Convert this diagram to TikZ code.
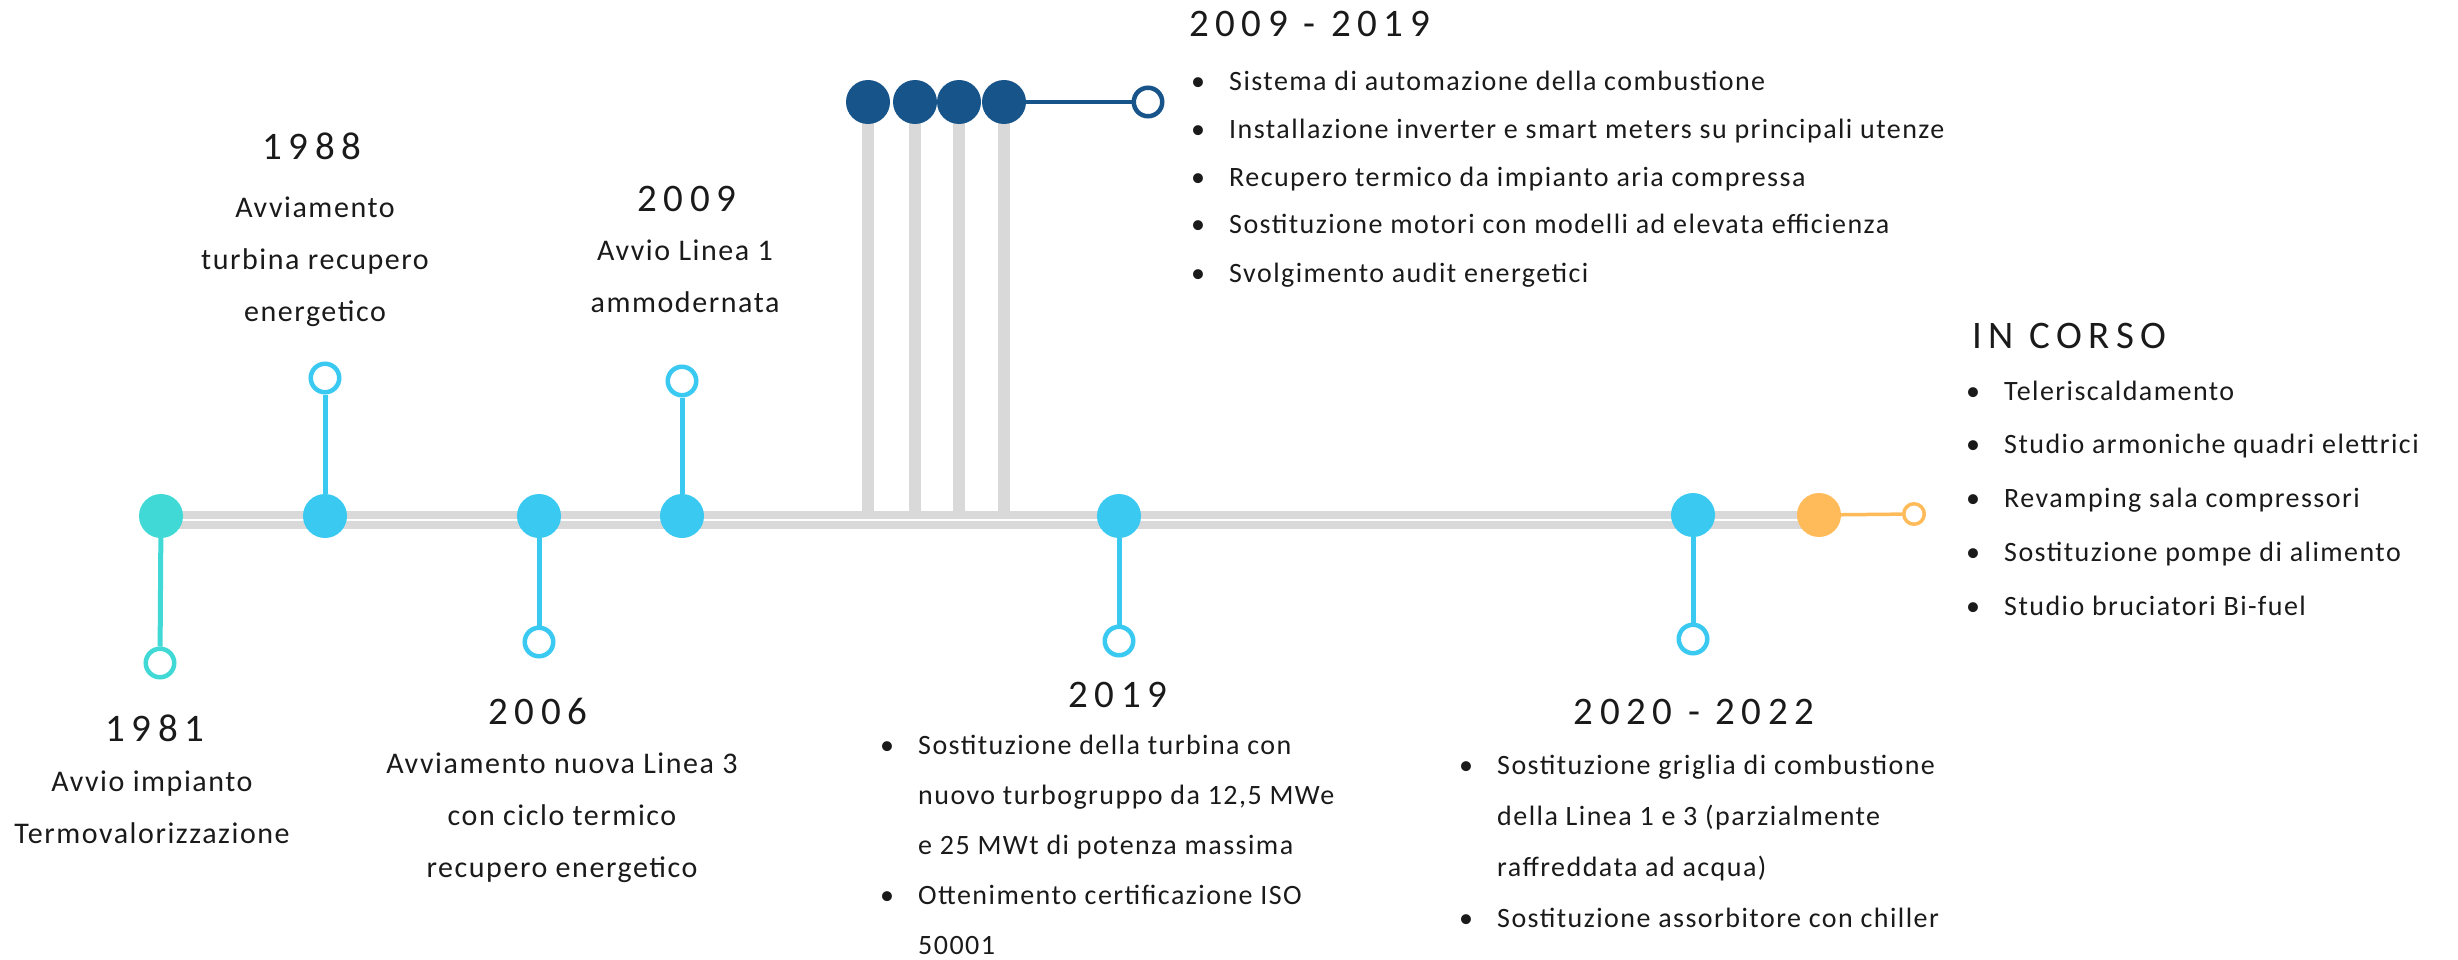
\documentclass[tikz,border=0pt]{standalone}
\usepackage{fontspec}
\setmainfont{Carlito}[LetterSpace=5.2]
\newfontfamily\yearfont{Carlito}[LetterSpace=17]
\usetikzlibrary{positioning}
\definecolor{tealdot}{RGB}{64,217,214}
\definecolor{skyblue}{RGB}{58,201,240}
\definecolor{navyblue}{RGB}{23,84,138}
\definecolor{amber}{RGB}{255,187,90}
\definecolor{railgray}{RGB}{217,217,217}
\definecolor{inkgray}{RGB}{26,26,26}
\pgfdeclarelayer{background}
\pgfsetlayers{background,main}
\newcommand{\blt}{\makebox[31pt][l]{\makebox[0pt]{\textbullet}}}
\newcommand{\ind}{\hspace*{31pt}}

\begin{document}
\begin{tikzpicture}[
    x=1pt, y=-1pt,
    milestone/.style={circle, inner sep=0, minimum size=44pt},
    endring/.style={circle, draw, fill=white, line width=4.5pt, inner sep=0, minimum size=28.5pt},
    stemline/.style={line width=5pt},
    yearlbl/.style={font=\yearfont\fontsize{39}{39}\selectfont, text=inkgray, inner sep=0, anchor=base},
    desclbl/.style={font=\fontsize{30}{52}\selectfont, text=inkgray, align=center, inner sep=0, anchor=base},
    itemlist/.style={font=\fontsize{28}{#1}\selectfont, text=inkgray, align=left, inner sep=0, anchor=base west}
  ]
    \useasboundingbox (0,0) rectangle (2458,960);

    % milestones on the rail
    \node[milestone, fill=tealdot] (d1981) at (161,516) {};
    \node[milestone, fill=skyblue] (d1988) at (325,516) {};
    \node[milestone, fill=skyblue] (d2006) at (539,516) {};
    \node[milestone, fill=skyblue] (d2009) at (682,516) {};
    \node[milestone, fill=skyblue] (d2019) at (1119,516) {};
    \node[milestone, fill=skyblue] (d2020) at (1693,515) {};
    \node[milestone, fill=amber] (dNow) at (1819,515) {};
    \foreach \x [count=\i] in {868,915,959,1004}
      \node[milestone, fill=navyblue] (n\i) at (\x,102) {};

    % end rings
    \node[endring, draw=tealdot] (e1981) at (160,663) {};
    \node[endring, draw=skyblue] (e1988) at (325,378) {};
    \node[endring, draw=skyblue] (e2006) at (539,642) {};
    \node[endring, draw=skyblue] (e2009) at (682,381) {};
    \node[endring, draw=skyblue] (e2019) at (1119,641) {};
    \node[endring, draw=skyblue] (e2020) at (1693,639) {};
    \node[endring, draw=navyblue] (eNavy) at (1148,102) {};
    \node[endring, draw=amber, line width=3.5pt, minimum size=20.5pt] (eNow) at (1914,514) {};

    \draw[stemline, tealdot] (d1981) -- (e1981);
    \draw[stemline, skyblue] (d1988) -- (e1988);
    \draw[stemline, skyblue] (d2006) -- (e2006);
    \draw[stemline, skyblue] (d2009) -- (e2009);
    \draw[stemline, skyblue] (d2019) -- (e2019);
    \draw[stemline, skyblue] (d2020) -- (e2020);
    \draw[navyblue, line width=4pt] (n4) -- (eNavy);
    \draw[amber, line width=3.5pt] (dNow) -- (eNow);

    \coordinate (railW) at (161,520);
    \coordinate (railE) at (1819,520);
    \coordinate (railTop) at (0,512);
    \begin{pgfonlayer}{background}
      \draw[railgray, line width=18pt] (railW) -- (railE);
      \draw[white, line width=2.5pt] (railW) -- (railE);
      \foreach \i in {1,...,4}
        \draw[railgray, line width=12pt] (n\i.center) -- (n\i.center |- railTop);
    \end{pgfonlayer}

    % years and texts (texts placed by their last baseline)
    \node[yearlbl] (y1981) at (155,741) {1981};
    \node[desclbl] (t1981) at (152,843) {Avvio impianto\\Termovalorizzazione};
    \node[yearlbl] (y1988) at (312,160) {1988};
    \node[desclbl] (t1988) at (315,321) {Avviamento\\turbina recupero\\energetico};
    \node[yearlbl] (y2006) at (538,724) {2006};
    \node[desclbl] (t2006) at (562,877) {Avviamento nuova Linea 3\\con ciclo termico\\recupero energetico};
    \node[yearlbl] (y2009) at (687,212) {2009};
    \node[desclbl] (t2009) at (685,312) {Avvio Linea 1\\ammodernata};

    \node[yearlbl, anchor=base west] (y0919) at (1189,37) {2009 - 2019};
    \node[itemlist=48] (l0919) at (1198,282) {\blt Sistema di automazione della combustione\\
      \blt Installazione inverter e smart meters su principali utenze\\
      \blt Recupero termico da impianto aria compressa\\
      \blt Sostituzione motori con modelli ad elevata efficienza\\
      \blt Svolgimento audit energetici};

    \node[yearlbl] (y2019) at (1118,707) {2019};
    \node[itemlist=50] (l2019) at (887,954) {\blt Sostituzione della turbina con\\
      \ind nuovo turbogruppo da 12,5 MWe\\
      \ind e 25 MWt di potenza massima\\
      \blt Ottenimento certificazione ISO\\
      \ind 50001};

    \node[yearlbl] (y2020) at (1694,724) {2020 - 2022};
    \node[itemlist=51] (l2020) at (1466,927) {\blt Sostituzione griglia di combustione\\
      \ind della Linea 1 e 3 (parzialmente\\
      \ind raffreddata ad acqua)\\
      \blt Sostituzione assorbitore con chiller};

    \node[yearlbl, anchor=base west] (yNow) at (1972,348) {IN CORSO};
    \node[itemlist=53.7] (lNow) at (1973,615) {\blt Teleriscaldamento\\
      \blt Studio armoniche quadri elettrici\\
      \blt Revamping sala compressori\\
      \blt Sostituzione pompe di alimento\\
      \blt Studio bruciatori Bi-fuel};
  \end{tikzpicture}
\end{document}
